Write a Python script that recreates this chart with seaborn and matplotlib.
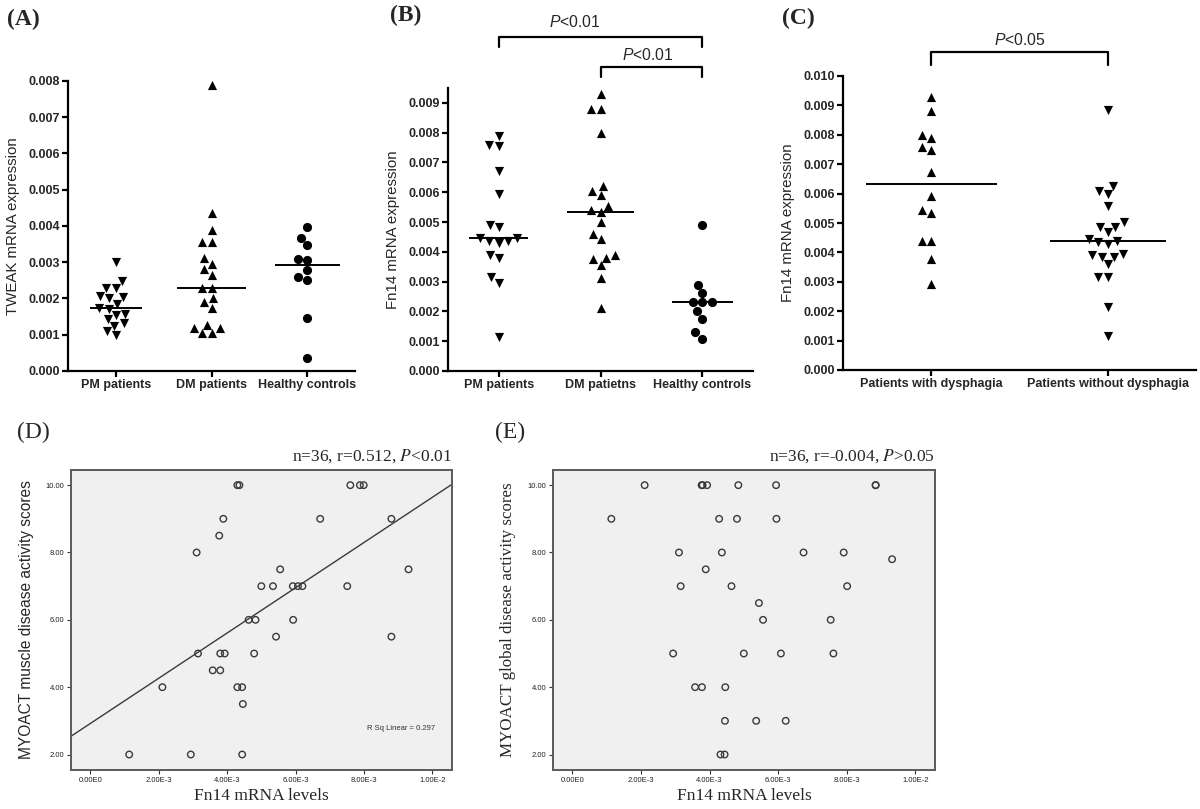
import numpy as np
import pandas as pd
import matplotlib
matplotlib.use("Agg")
import matplotlib.pyplot as plt
import seaborn as sns

# -----------------------------------
# Data
# -----------------------------------
groups_a = ["PM patients", "DM patients", "Healthy controls"]
groups_b = ["PM patients", "DM patietns", "Healthy controls"]
groups_c = ["Patients with dysphagia", "Patients without dysphagia"]

tweak_pm = [0.00302, 0.00228, 0.00230, 0.00247, 0.00205, 0.00200, 0.00208, 0.00185, 0.00175,
            0.00172, 0.00158, 0.00155, 0.00143, 0.00132, 0.00125, 0.00100, 0.00110]
tweak_dm = [0.00790, 0.00435, 0.00388, 0.00355, 0.00355, 0.00312, 0.00295, 0.00280, 0.00265, 0.00230,
            0.00230, 0.00200, 0.00190, 0.00175, 0.00128, 0.00118, 0.00118, 0.00105, 0.00105]
tweak_hc = [0.00398, 0.00368, 0.00348, 0.00308, 0.00305, 0.00278, 0.00258, 0.00250, 0.00145, 0.00035]

fn14_pm = [0.00790, 0.00760, 0.00755, 0.00672, 0.00594, 0.00490, 0.00482, 0.00447, 0.00445,
           0.00435, 0.00430, 0.00435, 0.00390, 0.00381, 0.00314, 0.00295, 0.00115]
fn14_dm = [0.00930, 0.00880, 0.00880, 0.00800, 0.00620, 0.00605, 0.00590, 0.00555, 0.00540, 0.00535,
           0.00500, 0.00460, 0.00442, 0.00390, 0.00380, 0.00375, 0.00355, 0.00312, 0.00210]
fn14_hc = [0.00490, 0.00290, 0.00262, 0.00230, 0.00230, 0.00230, 0.00200, 0.00175, 0.00130, 0.00108]

fn14_dys = [0.00930, 0.00880, 0.00800, 0.00790, 0.00760, 0.00750, 0.00672, 0.00592, 0.00543,
            0.00535, 0.00440, 0.00440, 0.00377, 0.00293]
fn14_nodys = [0.00883, 0.00625, 0.00608, 0.00598, 0.00558, 0.00503, 0.00487, 0.00485, 0.00468, 0.00445,
              0.00440, 0.00435, 0.00430, 0.00395, 0.00390, 0.00385, 0.00385, 0.00360, 0.00315, 0.00315,
              0.00215, 0.00115]

d_fn14 = [0.00430, 0.00436, 0.00760, 0.00788, 0.00799, 0.00389, 0.00672, 0.00880, 0.00377, 0.00311,
          0.00555, 0.00930, 0.00500, 0.00534, 0.00592, 0.00607, 0.00620, 0.00751, 0.00463, 0.00483,
          0.00593, 0.00543, 0.00880, 0.00315, 0.00380, 0.00393, 0.00479, 0.00358, 0.00380, 0.00430,
          0.00444, 0.00211, 0.00446, 0.00114, 0.00294, 0.00444]
d_muscle = [10, 10, 10, 10, 10, 9, 9, 9, 8.5, 8, 7.5, 7.5, 7, 7, 7, 7, 7, 7, 6, 6, 6, 5.5, 5.5,
            5, 5, 5, 5, 4.5, 4.5, 4, 4, 4, 3.5, 2, 2, 2]

e_fn14 = [0.00211, 0.00377, 0.00380, 0.00393, 0.00484, 0.00594, 0.00884, 0.00884, 0.00114, 0.00428,
          0.00480, 0.00595, 0.00311, 0.00436, 0.00674, 0.00791, 0.00932, 0.00389, 0.00316, 0.00464,
          0.00801, 0.00544, 0.00556, 0.00753, 0.00294, 0.00500, 0.00608, 0.00761, 0.00358, 0.00378,
          0.00446, 0.00445, 0.00536, 0.00622, 0.00432, 0.00444]
e_global = [10, 10, 10, 10, 10, 10, 10, 10, 9, 9, 9, 9, 8, 8, 8, 8, 7.8, 7.5, 7, 7, 7, 6.5, 6, 6,
            5, 5, 5, 5, 4, 4, 4, 3, 3, 3, 2, 2]

x_ticks_de = [0, 0.002, 0.004, 0.006, 0.008, 0.010]
x_ticklabels_de = ["0.00E0", "2.00E-3", "4.00E-3", "6.00E-3", "8.00E-3", "1.00E-2"]
y_ticks_de = [2, 4, 6, 8, 10]
y_ticklabels_de = ["2.00", "4.00", "6.00", "8.00", "10.00"]

# -----------------------------------
# Setup
# -----------------------------------
sns.set_theme(style="white")
plt.rcParams["font.family"] = ["Liberation Sans", "DejaVu Sans"]
plt.rcParams["mathtext.fontset"] = "custom"
plt.rcParams["mathtext.it"] = "Liberation Sans:italic"
plt.rcParams["mathtext.rm"] = "Liberation Sans"

W, H = 1200, 809
fig = plt.figure(figsize=(W / 100, H / 100), dpi=100)


def px_axes(left, top, right, bottom):
    return fig.add_axes([left / W, (H - bottom) / H, (right - left) / W, (bottom - top) / H])


def dot_panel(ax, groups, values, markers, halfw, ylim, yticks, ylabel):
    df = pd.DataFrame({
        "group": np.repeat(groups, [len(v) for v in values]),
        "value": np.concatenate(values),
    })
    for g, m in zip(groups, markers):
        sns.swarmplot(data=df[df["group"] == g], x="group", y="value", order=groups,
                      marker=m, color="black", size=6.6, ax=ax, warn_thresh=1)
    for i, (g, hw) in enumerate(zip(groups, halfw)):
        med = np.median(df.loc[df["group"] == g, "value"])
        ax.hlines(med, i - hw, i + hw, color="black", lw=1.4)
    ax.set_xlim(-0.5, len(groups) - 0.5)
    ax.set_ylim(*ylim)
    ax.set_yticks(yticks)
    ax.set_yticklabels([f"{t:.3f}" for t in yticks])
    ax.set_xlabel("")
    ax.set_ylabel(ylabel, fontsize=10.8, labelpad=6)
    sns.despine(ax=ax)
    for s in ["left", "bottom"]:
        ax.spines[s].set_linewidth(1.6)
        ax.spines[s].set_color("black")
    ax.tick_params(axis="both", direction="out", length=4, width=1.6, color="black",
                   labelsize=9, pad=2, left=True, bottom=True)
    for lab in ax.get_xticklabels() + ax.get_yticklabels():
        lab.set_fontweight("bold")
    ax.patch.set_alpha(0)


def bracket(ax, x0, x1, y_lo, y_hi, y_txt, x_txt, text):
    ax.plot([x0, x0, x1, x1], [y_lo, y_hi, y_hi, y_lo], color="black", lw=1.6, clip_on=False)
    ax.text(x_txt, y_txt, text, ha="center", va="center", fontsize=11.3, clip_on=False,
            math_fontfamily="custom")


# -----------------------------------
# (A) TWEAK
# -----------------------------------
ax_a = px_axes(68, 81, 355, 371)
dot_panel(ax_a, groups_a, [tweak_pm, tweak_dm, tweak_hc], ["v", "^", "o"],
          [0.27, 0.36, 0.34], (0, 0.008), np.arange(0, 0.0081, 0.001), "TWEAK mRNA expression")

# -----------------------------------
# (B) Fn14
# -----------------------------------
ax_b = px_axes(448, 88, 753, 371)
dot_panel(ax_b, groups_b, [fn14_pm, fn14_dm, fn14_hc], ["v", "^", "o"],
          [0.29, 0.33, 0.3], (0, 0.0095), np.arange(0, 0.0091, 0.001), "Fn14 mRNA expression")
bracket(ax_b, 0, 2, 0.01087, 0.0112, 0.01172, 0.75, r"$\mathit{P}$<0.01")
bracket(ax_b, 1, 2, 0.00987, 0.0102, 0.0106, 1.47, r"$\mathit{P}$<0.01")

# -----------------------------------
# (C) dysphagia
# -----------------------------------
ax_c = px_axes(843, 76, 1196, 370)
dot_panel(ax_c, groups_c, [fn14_dys, fn14_nodys], ["^", "v"],
          [0.37, 0.33], (0, 0.010), np.arange(0, 0.0101, 0.001), "Fn14 mRNA expression")
bracket(ax_c, 0, 1, 0.01037, 0.01082, 0.01122, 0.5, r"$\mathit{P}$<0.05")


# -----------------------------------
# (D) / (E) correlation panels
# -----------------------------------
def corr_panel(ax, x, y, fit, ylabel, ylabel_family, title):
    ax.set_facecolor("#f0f0f0")
    ax.set_xlim(-0.00056, 0.01057)
    ax.set_ylim(1.54, 10.45)
    sns.regplot(x=x, y=y, ax=ax, ci=None, truncate=False, fit_reg=fit,
                scatter_kws={"s": 22, "facecolors": "none", "edgecolors": "#3a3a3a",
                             "linewidths": 1.0, "alpha": 1},
                line_kws={"color": "#3a3a3a", "lw": 1.0})
    ax.set_xlim(-0.00056, 0.01057)
    ax.set_ylim(1.54, 10.45)
    ax.set_xticks(x_ticks_de)
    ax.set_xticklabels(x_ticklabels_de)
    ax.set_yticks(y_ticks_de)
    ax.set_yticklabels(y_ticklabels_de)
    for s in ax.spines.values():
        s.set_visible(True)
        s.set_color("#5a5a5a")
        s.set_linewidth(1.4)
    ax.tick_params(axis="both", direction="out", length=3, width=0.8, color="#333333",
                   labelsize=5.5, pad=2, left=True, bottom=True, labelcolor="#222222")
    ax.set_xlabel("Fn14 mRNA levels", fontsize=12.5, family=["Liberation Serif"], labelpad=3)
    if ylabel_family == "sans":
        ax.set_ylabel(ylabel, fontsize=11.2, family=["Liberation Sans"], labelpad=8)
    else:
        ax.set_ylabel(ylabel, fontsize=12.2, family=["Liberation Serif"], labelpad=8)
    ax.text(1.0, 1.045, title, transform=ax.transAxes, ha="right", va="center",
            fontsize=12.5, family=["Liberation Serif"], math_fontfamily="stix")


ax_d = px_axes(71, 470, 452, 770)
corr_panel(ax_d, np.array(d_fn14), np.array(d_muscle), True,
           "MYOACT muscle disease activity scores", "sans",
           r"n=36, r=0.512, $\mathit{P}$<0.01")
ax_d.text(0.866, 0.137, "R Sq Linear = 0.297", transform=ax_d.transAxes, ha="center",
          va="center", fontsize=5.5, color="#333333")

ax_e = px_axes(553, 470, 935, 770)
corr_panel(ax_e, np.array(e_fn14), np.array(e_global), False,
           "MYOACT global disease activity scores", "serif",
           r"n=36, r=-0.004, $\mathit{P}$>0.05")

# -----------------------------------
# Panel letters
# -----------------------------------
for lab, x, y, w in [("(A)", 7, 19, "bold"), ("(B)", 390, 15, "bold"), ("(C)", 782, 18, "bold"),
                     ("(D)", 17, 432, "normal"), ("(E)", 495, 432, "normal")]:
    fig.text(x / W, 1 - y / H, lab, ha="left", va="center", fontsize=17, fontweight=w,
             family=["Liberation Serif"])

fig.savefig("out.png", dpi=100, facecolor="white")
